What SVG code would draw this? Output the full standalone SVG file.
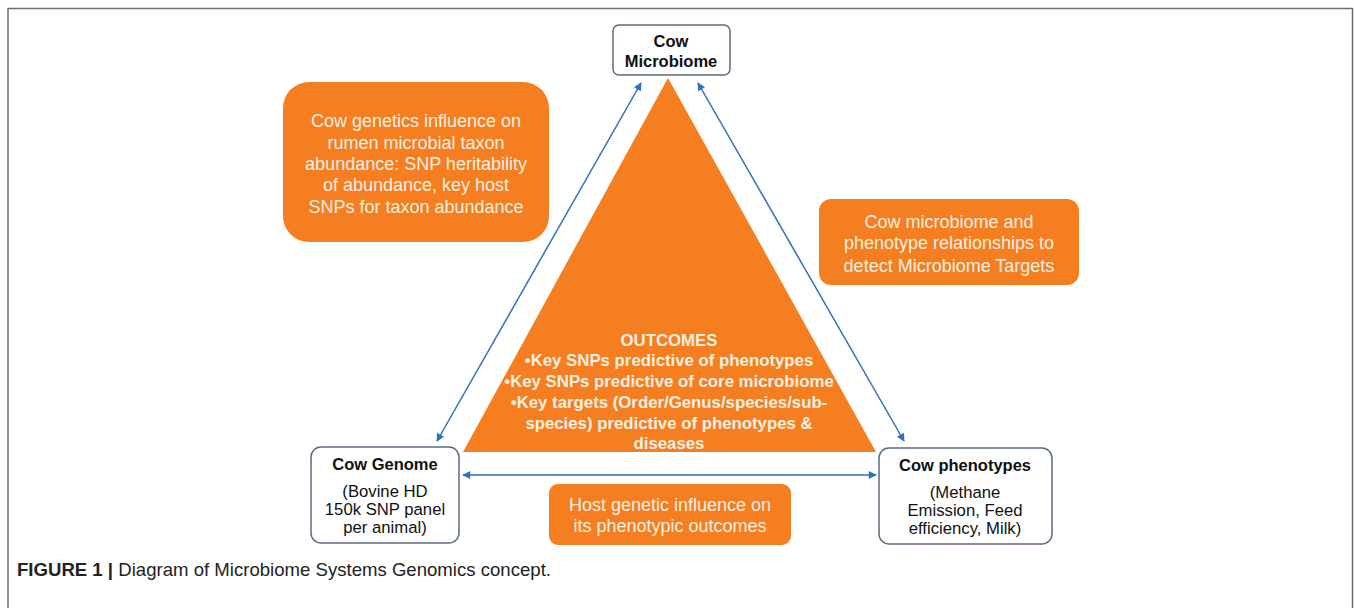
<svg xmlns="http://www.w3.org/2000/svg" width="1354" height="608" viewBox="0 0 1354 608">
<defs>
<marker id="ah" viewBox="0 0 10 10" refX="9" refY="5" markerWidth="9" markerHeight="8" orient="auto-start-reverse" markerUnits="userSpaceOnUse">
<path d="M0,0 L10,5 L0,10 z" fill="#2f6fc0"/>
</marker>
<style>
.node{fill:#fff;stroke:#5b6b82;stroke-width:1.5}
.org{fill:#f57e20}
.bt{font-family:"Liberation Sans",Arial,sans-serif;font-weight:bold;font-size:16.5px;fill:#111;text-anchor:middle}
.nt{font-family:"Liberation Sans",Arial,sans-serif;font-size:16.7px;fill:#111;text-anchor:middle}
.ot{font-family:"Liberation Sans",Arial,sans-serif;font-size:18px;fill:#fdf0e4;text-anchor:middle}
.tt{font-family:"Liberation Sans",Arial,sans-serif;font-weight:bold;font-size:16.8px;fill:#fdf0e4;text-anchor:middle}
.con{stroke:#2f6fc0;stroke-width:1.5;fill:none;marker-start:url(#ah);marker-end:url(#ah)}
</style>
</defs>
<rect width="1354" height="608" fill="#fff"/>
<path d="M8,608 V8.5 H1352.5 V608" fill="none" stroke="#6e6e6e" stroke-width="1.5"/>

<g id="outcomes">
<polygon class="org" points="668,78 463,452 876,452"/>
<text class="tt" x="669" y="346">OUTCOMES</text>
<text class="tt" x="669" y="366">•Key SNPs predictive of phenotypes</text>
<text class="tt" x="669" y="387">•Key SNPs predictive of core microbiome</text>
<text class="tt" x="669" y="408">•Key targets (Order/Genus/species/sub-</text>
<text class="tt" x="669" y="429">species) predictive of phenotypes &amp;</text>
<text class="tt" x="669" y="449">diseases</text>
</g>

<g id="connectors">
<line class="con" x1="437" y1="441" x2="641" y2="83"/>
<line class="con" x1="698" y1="83" x2="904" y2="441"/>
<line class="con" x1="463" y1="475" x2="876" y2="475"/>
</g>

<g id="microbiome">
<rect class="node" x="613" y="25" width="117" height="50" rx="6"/>
<text class="bt" x="671" y="47">Cow</text>
<text class="bt" x="671" y="67">Microbiome</text>
</g>

<g id="genome">
<rect class="node" x="311" y="447" width="148" height="96" rx="10"/>
<text class="bt" x="385" y="470">Cow Genome</text>
<text class="nt" x="385" y="497">(Bovine HD</text>
<text class="nt" x="385" y="515">150k SNP panel</text>
<text class="nt" x="385" y="533">per animal)</text>
</g>

<g id="phenotypes">
<rect class="node" x="879" y="448" width="173" height="96" rx="10"/>
<text class="bt" x="965" y="471">Cow phenotypes</text>
<text class="nt" x="965" y="498">(Methane</text>
<text class="nt" x="965" y="516">Emission, Feed</text>
<text class="nt" x="965" y="534">efficiency, Milk)</text>
</g>

<g id="genetics-microbiome">
<rect class="org" x="283" y="82" width="266" height="160" rx="26"/>
<text class="ot" x="416" y="127">Cow genetics influence on</text>
<text class="ot" x="416" y="149">rumen microbial taxon</text>
<text class="ot" x="416" y="170">abundance: SNP heritability</text>
<text class="ot" x="416" y="191">of abundance, key host</text>
<text class="ot" x="416" y="213">SNPs for taxon abundance</text>
</g>

<g id="microbiome-phenotype">
<rect class="org" x="819" y="199" width="260" height="86" rx="12"/>
<text class="ot" x="949" y="228">Cow microbiome and</text>
<text class="ot" x="949" y="249">phenotype relationships to</text>
<text class="ot" x="949" y="272">detect Microbiome Targets</text>
</g>

<g id="genetic-phenotype">
<rect class="org" x="549" y="484" width="242" height="61" rx="9"/>
<text class="ot" x="670" y="511">Host genetic influence on</text>
<text class="ot" x="670" y="532">its phenotypic outcomes</text>
</g>

<text x="17" y="576" textLength="534" lengthAdjust="spacingAndGlyphs" font-family="'Liberation Sans Narrow','Liberation Sans',Arial,sans-serif" font-size="19" fill="#222"><tspan font-weight="bold">FIGURE 1 |</tspan> Diagram of Microbiome Systems Genomics concept.</text>
</svg>
